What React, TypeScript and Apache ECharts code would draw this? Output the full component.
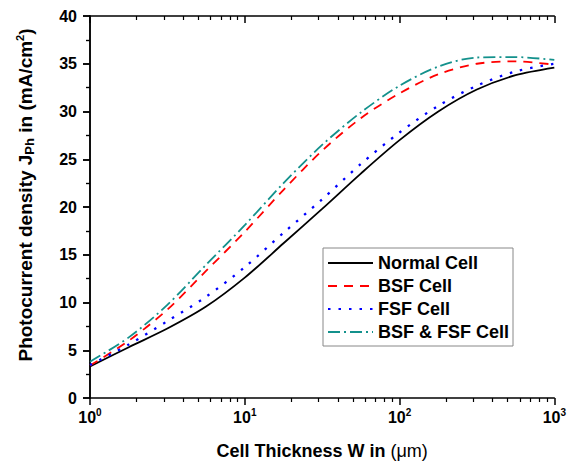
import React, { useEffect, useRef } from "react";
import * as echarts from "echarts";

const thickness = [1, 1.78, 3.16, 5.62, 10, 17.8, 31.6, 56.2, 100, 178, 316, 562, 1000];
const normalCell = [3.3, 5.32, 7.27, 9.57, 12.6, 16.2, 19.8, 23.5, 27.0, 30.0, 32.3, 33.8, 34.6];
const bsfCell = [3.4, 6.0, 9.25, 13.3, 17.4, 21.8, 25.9, 29.3, 31.9, 33.9, 35.0, 35.25, 34.9];
const fsfCell = [3.45, 5.6, 8.05, 10.6, 13.7, 17.3, 20.8, 24.5, 27.8, 30.6, 32.7, 34.2, 35.0];
const bothCell = [3.8, 6.35, 9.75, 13.95, 18.1, 22.5, 26.5, 29.9, 32.7, 34.7, 35.65, 35.7, 35.4];

const seriesNames = ["Normal Cell", "BSF Cell", "FSF Cell", "BSF & FSF Cell"];
const decades = [0, 1, 2, 3];
const yTicks = [0, 5, 10, 15, 20, 25, 30, 35, 40];

const minorTicks: number[] = [];
for (let n = 0; n < 3; n++) {
  for (let k = 2; k <= 9; k++) minorTicks.push(Math.log10(k * Math.pow(10, n)));
}

const FONT = "'Liberation Sans', Arial, sans-serif";

export default function App() {
  const ref = useRef<HTMLDivElement>(null);
  useEffect(() => {
    if (!ref.current) return;
    const chart = echarts.init(ref.current, undefined, { renderer: "svg" });
    const toData = (vals: number[]) => thickness.map((w, i) => [Math.log10(w), vals[i]]);
    const axisLine = { show: true, lineStyle: { color: "#000", width: 1.5 } };
    const xBase = {
      type: "value" as const,
      min: decades[0],
      max: decades[decades.length - 1],
      interval: 1,
      splitLine: { show: false },
    };
    const yBase = {
      type: "value" as const,
      min: yTicks[0],
      max: yTicks[yTicks.length - 1],
      interval: 5,
      splitLine: { show: false },
    };
    const lineSeries = (name: string, vals: number[], color: string, width: number, type: any) => ({
      name,
      type: "line",
      data: toData(vals),
      smooth: 0.3,
      symbol: "none",
      lineStyle: { color, width, type },
      itemStyle: { color },
    });
    chart.setOption({
      animation: false,
      grid: { left: 90, right: 10, top: 16, bottom: 72, containLabel: false },
      xAxis: [
        {
          ...xBase,
          position: "bottom",
          axisLine,
          axisTick: { show: true, inside: false, length: 7, lineStyle: { color: "#000", width: 1.5 } },
          axisLabel: {
            margin: 9,
            formatter: (v: number) => `{b|10}{s|${Math.round(v)}}`,
            rich: {
              b: { fontSize: 16, fontWeight: "bold", fontFamily: FONT, color: "#000", lineHeight: 20 },
              s: { fontSize: 10, fontWeight: "bold", fontFamily: FONT, color: "#000", verticalAlign: "top", lineHeight: 12 },
            },
          },
          name: "Cell Thickness W in {n|(μm)}",
          nameLocation: "middle",
          nameGap: 44,
          nameTextStyle: {
            fontSize: 18,
            fontWeight: "bold",
            fontFamily: FONT,
            color: "#000",
            rich: { n: { fontSize: 18, fontWeight: "normal", fontFamily: FONT, color: "#000" } },
          },
        },
        {
          ...xBase,
          position: "bottom",
          axisLine: { show: false },
          axisTick: { show: true, inside: false, length: 4, customValues: minorTicks, lineStyle: { color: "#000", width: 1.2 } },
          axisLabel: { show: false },
        },
        {
          ...xBase,
          position: "top",
          axisLine,
          axisTick: { show: true, inside: true, length: 7, lineStyle: { color: "#000", width: 1.5 } },
          axisLabel: { show: false },
        },
        {
          ...xBase,
          position: "top",
          axisLine: { show: false },
          axisTick: { show: true, inside: true, length: 4, customValues: minorTicks, lineStyle: { color: "#000", width: 1.2 } },
          axisLabel: { show: false },
        },
      ],
      yAxis: [
        {
          ...yBase,
          position: "left",
          axisLine,
          axisTick: { show: true, inside: false, length: 7, lineStyle: { color: "#000", width: 1.5 } },
          minorTick: { show: true, splitNumber: 2, length: 4, lineStyle: { color: "#000", width: 1.2 } },
          axisLabel: { margin: 13, fontSize: 16, fontWeight: "bold", fontFamily: FONT, color: "#000" },
        },
        {
          ...yBase,
          position: "right",
          axisLine,
          axisTick: { show: true, inside: true, length: 7, lineStyle: { color: "#000", width: 1.5 } },
          minorTick: { show: true, splitNumber: 2, length: 4, lineStyle: { color: "#000", width: 1.2 } },
          axisLabel: { show: false },
        },
      ],
      legend: {
        orient: "vertical",
        left: 323,
        top: 248,
        padding: [6, 4, 5, 4],
        itemGap: 5,
        itemWidth: 45,
        itemHeight: 14,
        borderColor: "#888",
        borderWidth: 1,
        backgroundColor: "#fff",
        data: seriesNames,
        itemStyle: { opacity: 0 },
        textStyle: { fontSize: 18, fontWeight: "bold", fontFamily: FONT, color: "#000" },
      },
      graphic: [
        {
          type: "text",
          x: 25,
          y: 195,
          rotation: Math.PI / 2,
          style: {
            text: "Photocurrent density J{sub|Ph} in (mA/cm{sup|2})",
            fontSize: 19,
            fontWeight: "bold",
            fontFamily: FONT,
            fill: "#000",
            align: "center",
            verticalAlign: "middle",
            rich: {
              sub: { fontSize: 13, fontWeight: "bold", fontFamily: FONT, fill: "#000", padding: [9, 0, 0, 0] },
              sup: { fontSize: 11, fontWeight: "bold", fontFamily: FONT, fill: "#000", padding: [0, 0, 10, 0] },
            },
          },
        },
      ],
      series: [
        lineSeries(seriesNames[0], normalCell, "#000000", 1.8, "solid"),
        lineSeries(seriesNames[1], bsfCell, "#ff0000", 1.8, [9, 7]),
        lineSeries(seriesNames[2], fsfCell, "#0000ff", 2.3, [2.5, 8]),
        lineSeries(seriesNames[3], bothCell, "#13918c", 1.8, [12, 4, 2, 4]),
      ],
    });
    return () => chart.dispose();
  }, []);
  return <div ref={ref} style={{ width: 569, height: 470, position: "absolute", left: 0, top: 0 }} />;
}
